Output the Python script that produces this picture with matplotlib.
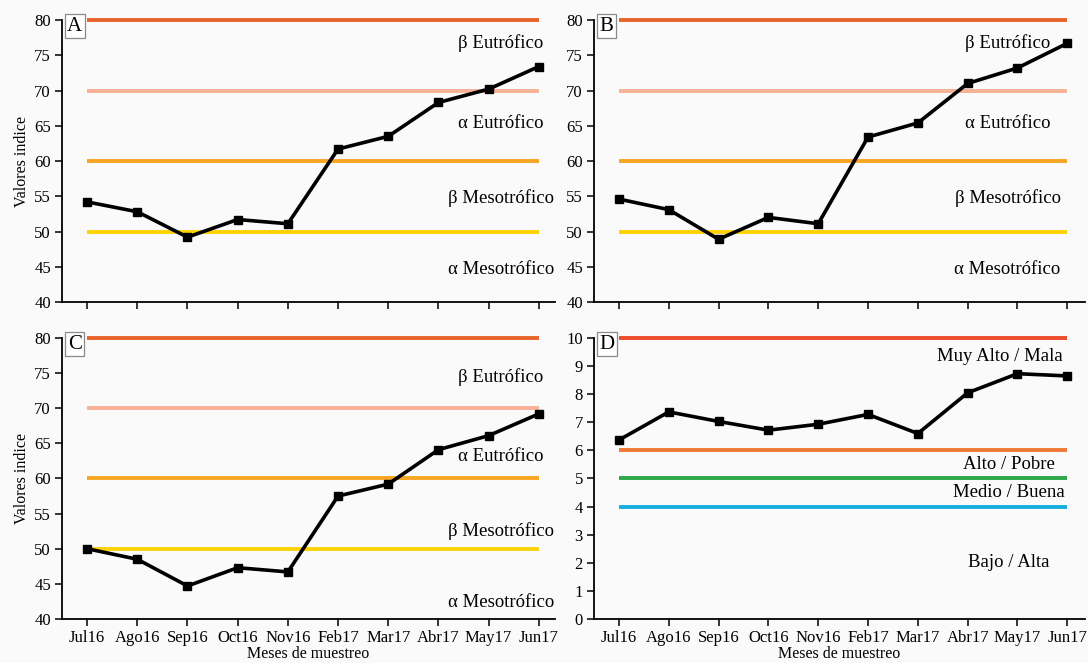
import matplotlib
matplotlib.use("Agg")
import matplotlib.pyplot as plt
import numpy as np

plt.rcParams['font.family'] = ['Liberation Serif', 'DejaVu Serif']

months = ['Jul16', 'Ago16', 'Sep16', 'Oct16', 'Nov16', 'Feb17', 'Mar17', 'Abr17', 'May17', 'Jun17']

vals_a = [54.2, 52.8, 49.2, 51.7, 51.1, 61.7, 63.5, 68.3, 70.2, 73.4]
vals_b = [54.6, 53.1, 48.9, 52.0, 51.1, 63.4, 65.4, 71.0, 73.2, 76.7]
vals_c = [50.0, 48.5, 44.7, 47.3, 46.7, 57.5, 59.2, 64.1, 66.1, 69.2]
vals_d = [6.37, 7.37, 7.03, 6.72, 6.93, 7.28, 6.60, 8.05, 8.73, 8.65]

# trophic thresholds (panels A-C) and index thresholds (panel D)
troph_levels = [80, 70, 60, 50]
troph_colors = ['#e8642a', '#f7b196', '#f7a623', '#fcd205']
troph_labels = ['β Eutrófico', 'α Eutrófico', 'β Mesotrófico', 'α Mesotrófico']

d_levels = [10, 6, 5, 4]
d_colors = ['#ec4b2c', '#f07a35', '#2aa84a', '#17addd']
d_labels = ['Muy Alto / Mala', 'Alto / Pobre', 'Medio / Buena', 'Bajo / Alta']

bg = '#fafafa'
fig = plt.figure(figsize=(10.88, 6.63), dpi=100, facecolor=bg)

boxes = {
    'A': [0.057, 0.5445, 0.453, 0.4253],
    'B': [0.546, 0.5445, 0.451, 0.4253],
    'C': [0.057, 0.0664, 0.453, 0.4238],
    'D': [0.546, 0.0664, 0.451, 0.4238],
}


def base_axes(key, xlim_right):
    ax = fig.add_axes(boxes[key])
    ax.set_facecolor(bg)
    for s in ['top', 'right']:
        ax.spines[s].set_visible(False)
    for s in ['left', 'bottom']:
        ax.spines[s].set_linewidth(1.3)
    ax.tick_params(direction='out', length=5, width=1.1, labelsize=12, pad=3)
    x = np.arange(len(months))
    ax.set_xticks(x)
    ax.set_xlim(-0.5, xlim_right)
    ax.text(0.026, 0.978, key, transform=ax.transAxes, fontsize=15,
            ha='center', va='center', clip_on=False, zorder=6,
            bbox=dict(boxstyle='square,pad=0.12', fc='white', ec='#8a8a8a', lw=0.9))
    return ax, x


def hlines(ax, x, levels, colors):
    for lvl, col in zip(levels, colors):
        ax.plot([x[0], x[-1]], [lvl, lvl], color=col, lw=2.8,
                solid_capstyle='butt', zorder=2, clip_on=False)


def troph_panel(key, vals, label_pos, label_x, show_x, show_y, xr):
    ax, x = base_axes(key, xr)
    hlines(ax, x, troph_levels, troph_colors)
    ax.plot(x, vals, color='black', lw=2.6, marker='s', markersize=5.5, zorder=4)
    for lab, yy in zip(troph_labels, label_pos):
        ax.text(label_x, yy, lab, ha='center', va='center', fontsize=13.5)
    ax.set_ylim(40, 80)
    ax.set_yticks(np.arange(40, 81, 5))
    if show_x:
        ax.set_xticklabels(months)
        ax.set_xlabel('Meses de muestreo', fontsize=11.5, labelpad=0)
    else:
        ax.set_xticklabels([])
    if show_y:
        ax.set_ylabel('Valores indice', fontsize=11.5, labelpad=3)
    return ax


troph_panel('A', vals_a, [76.7, 65.3, 54.8, 44.6], 8.24, False, True, 9.32)
troph_panel('B', vals_b, [76.7, 65.3, 54.7, 44.6], 7.8, False, False, 9.35)
troph_panel('C', vals_c, [74.4, 63.2, 52.5, 42.4], 8.24, True, True, 9.32)

ax, x = base_axes('D', 9.35)
hlines(ax, x, d_levels, d_colors)
ax.plot(x, vals_d, color='black', lw=2.6, marker='s', markersize=5.5, zorder=4)
for lab, yy, xx in zip(d_labels, [9.33, 5.5, 4.5, 2.0], [7.65, 7.82, 7.82, 7.82]):
    ax.text(xx, yy, lab, ha='center', va='center', fontsize=13.5)
ax.set_ylim(0, 10)
ax.set_yticks(np.arange(0, 11, 1))
ax.set_xticklabels(months)
ax.set_xlabel('Meses de muestreo', fontsize=11.5, labelpad=0)

fig.savefig('out.png', dpi=100, facecolor=bg)
